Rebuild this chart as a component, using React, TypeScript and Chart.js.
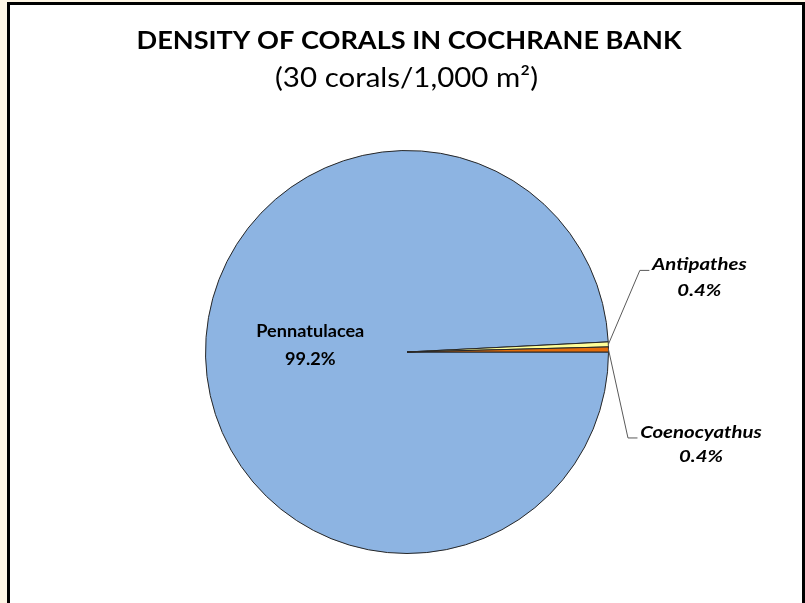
import { useEffect, useRef } from "react";
import { Chart, ArcElement, PieController } from "chart.js";

Chart.register(ArcElement, PieController);

const categories = ["Pennatulacea", "Antipathes", "Coenocyathus"];
const counts = [248, 1, 1];
const sliceColors = ["#8DB4E2", "#FFFF99", "#E46C0A"];
const titleText = "DENSITY OF CORALS IN COCHRANE BANK";
const subtitleText = "(30 corals/1,000 m\u00B2)";

const FAMILY = "Lato, 'Open Sans', sans-serif";

function scaleFor(ctx: CanvasRenderingContext2D, text: string, font: string, target: number) {
  ctx.font = font;
  return target / ctx.measureText(text).width;
}

function drawScaled(ctx: CanvasRenderingContext2D, text: string, x: number, y: number, font: string, sx: number) {
  ctx.save();
  ctx.font = font;
  ctx.translate(x, y);
  ctx.scale(sx, 1);
  ctx.fillText(text, 0, 0);
  ctx.restore();
}

const labelPlugin = {
  id: "coralLabels",
  afterDraw(chart: any) {
    const ctx: CanvasRenderingContext2D = chart.ctx;
    ctx.save();
    ctx.fillStyle = "#000";
    ctx.textAlign = "center";
    ctx.textBaseline = "alphabetic";

    // Title
    const tFont = `bold 25.5px ${FAMILY}`;
    drawScaled(ctx, titleText, 409, 48.5, tFont, scaleFor(ctx, titleText, tFont, 545));

    const sFont = `26px ${FAMILY}`;
    drawScaled(ctx, subtitleText, 406.5, 86.5, sFont, scaleFor(ctx, subtitleText, sFont, 263));

    const meta = chart.getDatasetMeta(0);
    const total = counts.reduce((a, b) => a + b, 0);
    const pct = counts.map((v) => ((v / total) * 100).toFixed(1) + "%");

    const inFont = `bold 16.5px ${FAMILY}`;
    const inSx = scaleFor(ctx, categories[0], inFont, 108);
    const outFont = `italic bold 17px ${FAMILY}`;
    const outSx = scaleFor(ctx, categories[2], outFont, 121.7);

    const outer: Record<number, { dx: number; dy: number; elbow: [number, number]; end: [number, number]; lh: number }> = {
      1: { dx: 91, dy: -74, elbow: [31.5, -74], end: [41, -74], lh: 26 },
      2: { dx: 92.5, dy: 88.5, elbow: [19.5, 88.5], end: [29, 88.5], lh: 24.5 },
    };

    meta.data.forEach((arc: any, i: number) => {
      const { x, y, startAngle, endAngle, outerRadius } = arc.getProps(
        ["x", "y", "startAngle", "endAngle", "outerRadius"],
        true
      );
      const mid = (startAngle + endAngle) / 2;
      if (i === 0) {
        const ax = x + Math.cos(mid) * outerRadius * 0.48;
        const ay = y + Math.sin(mid) * outerRadius * 0.48;
        ctx.fillStyle = "#000";
        drawScaled(ctx, categories[i], ax, ay - 17, inFont, inSx);
        drawScaled(ctx, pct[i], ax, ay + 10.3, inFont, inSx);
      } else {
        const o = outer[i];
        const ex = x + Math.cos(mid) * outerRadius;
        const ey = y + Math.sin(mid) * outerRadius;
        ctx.strokeStyle = "#595959";
        ctx.lineWidth = 1;
        ctx.beginPath();
        ctx.moveTo(ex, ey);
        ctx.lineTo(ex + o.elbow[0], ey + o.elbow[1]);
        ctx.lineTo(ex + o.end[0], ey + o.end[1]);
        ctx.stroke();
        ctx.fillStyle = "#000";
        drawScaled(ctx, categories[i], ex + o.dx, ey + o.dy, outFont, outSx);
        drawScaled(ctx, pct[i], ex + o.dx, ey + o.dy + o.lh, outFont, outSx);
      }
    });
    ctx.restore();
  },
};

export default function App() {
  const ref = useRef<HTMLCanvasElement | null>(null);
  useEffect(() => {
    if (!ref.current) return;
    const chart = new Chart(ref.current, {
      type: "pie",
      data: {
        labels: categories,
        datasets: [
          {
            data: counts,
            backgroundColor: sliceColors,
            borderColor: "#262626",
            borderWidth: 1,
          },
        ],
      },
      options: {
        responsive: false,
        animation: false,
        devicePixelRatio: 1,
        rotation: 90,
        layout: { padding: { top: 150, bottom: 49, left: 100, right: 91 } },
        plugins: {
          legend: { display: false },
          tooltip: { enabled: false },
        },
      } as any,
      plugins: [labelPlugin],
    });
    return () => chart.destroy();
  }, []);

  return (
    <div
      style={{
        position: "fixed",
        left: 0,
        top: 0,
        width: 805,
        height: 603,
        overflow: "hidden",
        background: "#FFF7E6",
      }}
    >
      <div
        style={{
          position: "absolute",
          left: 7,
          top: 2,
          width: 792,
          height: 700,
          borderLeft: "3px solid #000",
          borderTop: "3px solid #000",
          borderRight: "3px solid #000",
          background: "#fff",
        }}
      />
      <canvas
        ref={ref}
        width={805}
        height={603}
        style={{ position: "absolute", left: 0, top: 0, width: 805, height: 603 }}
      />
    </div>
  );
}
